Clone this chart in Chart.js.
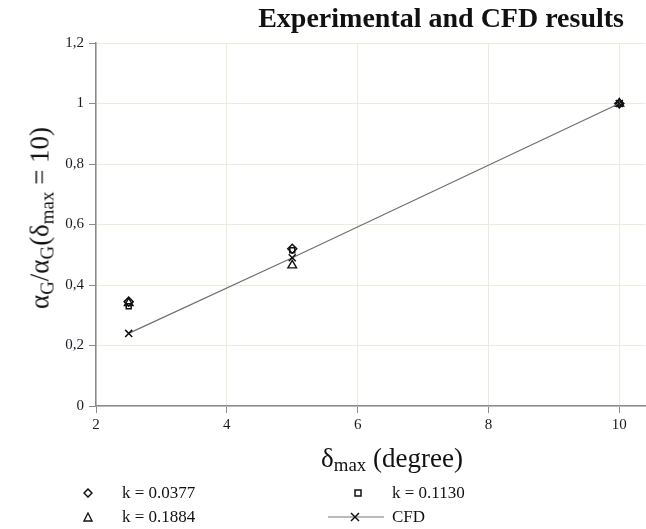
<!DOCTYPE html>
<html>
<head>
<meta charset="utf-8">
<script src="https://cdn.jsdelivr.net/npm/chart.js@4/dist/chart.umd.min.js"></script>
<style>
  html, body { margin: 0; padding: 0; background: #fff; }
  #wrap { position: relative; width: 646px; height: 529px; overflow: hidden; font-family: 'Liberation Serif', 'DejaVu Serif', serif; color: #111; }
  #c { position: absolute; left: 0; top: 0; }
  .title { position: absolute; right: 22px; top: 18px; transform: translateY(-50%); font-weight: bold; font-size: 28px; white-space: nowrap; }
  .ytitle { position: absolute; left: 40px; top: 218px; transform: translate(-50%, -50%) rotate(-90deg); font-size: 27px; white-space: nowrap; }
  .xtitle { position: absolute; left: 392px; top: 458px; transform: translate(-50%, -50%); font-size: 27px; white-space: nowrap; }
  sub { font-size: 0.7em; vertical-align: -0.25em; line-height: 0; }
  .leg { position: absolute; font-size: 17px; white-space: nowrap; transform: translateY(-50%); }
  .mk { position: absolute; transform: translate(-50%, -50%); }
</style>
</head>
<body>
<div id="wrap">
  <canvas id="c" width="652" height="529"></canvas>
  <div class="title">Experimental and CFD results</div>
  <div class="ytitle">α<sub>G</sub>/α<sub>G</sub>(δ<sub>max</sub> = 10)</div>
  <div class="xtitle">δ<sub>max</sub> (degree)</div>

  <svg class="mk" style="left:88px;top:493px" width="10" height="10"><path d="M5 1 L9 5 L5 9 L1 5 Z" fill="none" stroke="#111" stroke-width="1.5"/></svg>
  <div class="leg" style="left:122px;top:493px">k = 0.0377</div>
  <svg class="mk" style="left:358px;top:493px" width="10" height="10"><rect x="2" y="2" width="6" height="6" fill="none" stroke="#111" stroke-width="1.5"/></svg>
  <div class="leg" style="left:392px;top:493px">k = 0.1130</div>
  <svg class="mk" style="left:88px;top:517px" width="10" height="10"><path d="M5 1 L9 9 L1 9 Z" fill="none" stroke="#111" stroke-width="1.3"/></svg>
  <div class="leg" style="left:122px;top:517px">k = 0.1884</div>
  <svg class="mk" style="left:356px;top:517px" width="58" height="12"><line x1="1" y1="6" x2="57" y2="6" stroke="#777" stroke-width="1.2"/><path d="M24 2 L32 10 M32 2 L24 10" stroke="#111" stroke-width="1.5"/></svg>
  <div class="leg" style="left:392px;top:517px">CFD</div>
</div>
<script>
// valores
const deltaMax = [2.5, 5, 10];
const k0377 = [0.345, 0.52, 1.0];
const k1130 = [0.33, 0.515, 1.0];
const k1884 = [0.34, 0.465, 1.0];
const cfd = [0.24, 0.49, 1.0];
const xTicks = [2, 4, 6, 8, 10];

const pts = (ys) => deltaMax.map((x, i) => ({ x, y: ys[i] }));
const fmtY = (v) => { const r = Math.round(v * 10) / 10; return Number.isInteger(r) ? String(r) : r.toFixed(1).replace('.', ','); };
const tickFont = { family: "'Liberation Serif', serif", size: 15 };
const gridCol = '#eeeadc';
const axisCol = '#8a8a8a';

new Chart(document.getElementById('c').getContext('2d'), {
  type: 'scatter',
  data: {
    datasets: [
      { label: 'CFD', data: pts(cfd), showLine: true, borderColor: '#707070', borderWidth: 1.3, pointStyle: 'crossRot', pointRadius: 5, pointBorderColor: '#111', pointBorderWidth: 1.5, backgroundColor: 'transparent' },
      { label: 'k = 0.0377', data: pts(k0377), pointStyle: 'rectRot', pointRadius: 4.5, pointBorderColor: '#111', pointBorderWidth: 1.5, backgroundColor: 'transparent' },
      { label: 'k = 0.1130', data: pts(k1130), pointStyle: 'rect', pointRadius: 3.5, pointBorderColor: '#111', pointBorderWidth: 1.5, backgroundColor: 'transparent' },
      { label: 'k = 0.1884', data: pts(k1884), pointStyle: 'triangle', pointRadius: 5, pointBorderColor: '#111', pointBorderWidth: 1.4, backgroundColor: 'transparent' },
    ],
  },
  options: {
    responsive: false, animation: false,
    layout: { padding: { top: 43, left: 0, right: 0, bottom: 0 } },
    plugins: { legend: { display: false }, tooltip: { enabled: false } },
    scales: {
      x: {
        type: 'linear', min: 2, max: 10.4,
        afterBuildTicks: (ax) => { ax.ticks = xTicks.map(v => ({ value: v })); },
        afterFit: (s) => { s.height = 123; },
        grid: { color: gridCol, tickColor: axisCol, tickLength: 7 },
        border: { color: axisCol, width: 1.5 },
        ticks: { font: tickFont, color: '#1a1a22', padding: 3, maxRotation: 0 },
      },
      y: {
        min: 0, max: 1.2,
        ticks: { stepSize: 0.2, callback: fmtY, font: tickFont, color: '#1a1a22', padding: 5 },
        afterFit: (s) => { s.width = 96; },
        grid: { color: gridCol, tickColor: axisCol, tickLength: 7 },
        border: { color: axisCol, width: 1.5 },
      },
    },
  },
});
</script>
</body>
</html>
